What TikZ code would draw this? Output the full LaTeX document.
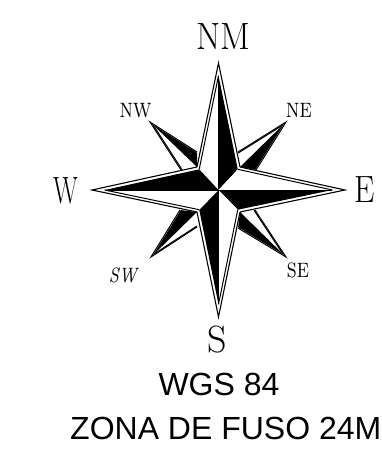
\documentclass[tikz,border=0pt]{standalone}
\usepackage{fontspec}
\newfontfamily\arialf{Liberation Sans}
\usetikzlibrary{calc}
\newcommand{\biglab}[2]{\scalebox{#1}[1]{\fontsize{38}{38}\selectfont #2}}
\newcommand{\smalllab}[1]{\scalebox{2.1}[2.6]{\fontsize{8}{8}\selectfont #1}}
\tikzset{
  lbl/.style={inner sep=0pt,anchor=base,text=black},
  captionlbl/.style={inner sep=0pt,text=black,font=\arialf\fontsize{32}{32}\selectfont},
  rim/.style={draw=black,line width=1.1pt,line join=miter},
  fine/.style={draw=black,line width=1pt,line join=miter},
}
% #1 tip, #2 white-side end, #3 black-side end, #4 corner
\newcommand{\minorpt}[4]{%
  \fill[white] (#1)--(#2)--(#4)--(#3)--cycle;
  \draw[fine] (#2)--(#1)--(#3);
  \draw[fine] ($(#1)!0.07!(#4)$)--($(#2)!0.07!(#4)$);
  \fill[black] ($(#1)!0.05!(#4)$)--($(#3)!0.05!(#4)$)--(#4)--cycle;
}
% #1 tip, #2 white-side corner, #3 black-side corner
\newcommand{\majorpt}[3]{%
  \fill[white] (#1)--(#2)--(c)--(#3)--cycle;
  \draw[rim] (#2)--(#1)--(#3);
  \coordinate (ti) at ($(#1)!0.10!(c)$);
  \draw[fine] ($(#2)!3.2pt!(c)$)--(ti);
  \fill[black] (ti)--(c)--($(#3)!3.2pt!(c)$)--cycle;
  \draw[fine] (ti)--(c);
}
\begin{document}
\begin{tikzpicture}[x=1pt,y=-1pt]
\useasboundingbox (0,0) rectangle (382,450);
\clip (0,0) rectangle (382,450);
\coordinate (c) at (218.5,190);
\coordinate (tn) at (218.5,63);
\coordinate (ts) at (218.5,317);
\coordinate (tw) at (92,190);
\coordinate (te) at (345,190);
\coordinate (cnw) at (197,167);
\coordinate (cne) at (240,167);
\coordinate (csw) at (197,212);
\coordinate (cse) at (240,212);
\coordinate (tnw) at (150,122);
\coordinate (tne) at (286,122);
\coordinate (tsw) at (151,257);
\coordinate (tse) at (286,257);
\coordinate (nwa) at (181,170);
\coordinate (nwb) at (197,152);
\coordinate (nea) at (238,152);
\coordinate (neb) at (256,170);
\coordinate (swa) at (197,227);
\coordinate (swb) at (180,210);
\coordinate (sea) at (255,210);
\coordinate (seb) at (238,228);
\minorpt{tnw}{nwa}{nwb}{cnw}
\minorpt{tne}{nea}{neb}{cne}
\minorpt{tse}{sea}{seb}{cse}
\minorpt{tsw}{swa}{swb}{csw}
\majorpt{tn}{cnw}{cne}
\majorpt{te}{cne}{cse}
\majorpt{ts}{cse}{csw}
\majorpt{tw}{csw}{cnw}
\node[lbl] (lnm) at (223,49) {\biglab{0.92}{NM}};
\node[lbl] (ls) at (217.5,352) {\biglab{1}{S}};
\node[lbl] (lw) at (65.5,203) {\biglab{0.68}{W}};
\node[lbl] (le) at (364.5,202) {\biglab{0.85}{E}};
\node[lbl] (lnw) at (135.5,117) {\smalllab{NW}};
\node[lbl] (lne) at (299,117) {\smalllab{NE}};
\node[lbl] (lse) at (298,277) {\smalllab{SE}};
\node[lbl] (lsw) at (123,282) {\smalllab{\itshape SW}};
\node[captionlbl,anchor=base] (wgs) at (219,395) {WGS 84};
\node[captionlbl,anchor=base west] (zona) at (70,439) {ZONA DE FUSO 24M};
\end{tikzpicture}
\end{document}
